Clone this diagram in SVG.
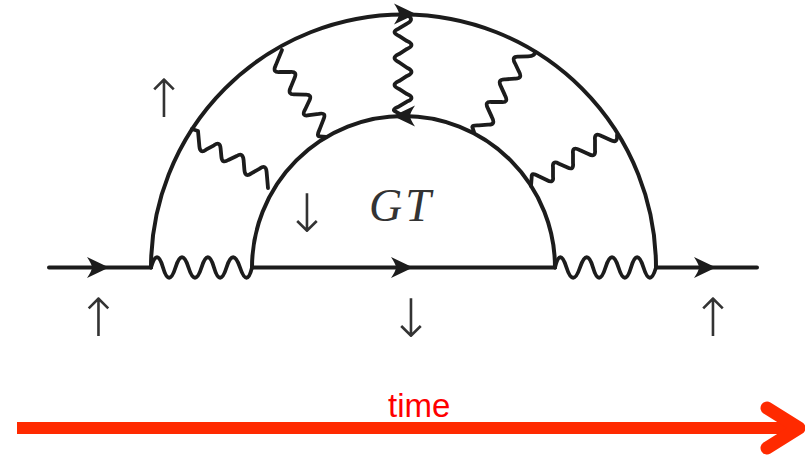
<svg xmlns="http://www.w3.org/2000/svg" width="805" height="456" viewBox="0 0 805 456">
<style>
.l{fill:none;stroke:#1c1c1c;stroke-width:4;stroke-linejoin:round;stroke-linecap:round}
.w{fill:none;stroke:#1c1c1c;stroke-width:3.8;stroke-linejoin:round;stroke-linecap:round}
.h{fill:#1c1c1c}
.m{font-family:"DejaVu Sans",sans-serif;font-weight:200;font-size:53px;fill:#333;text-anchor:middle}
</style>
<defs><path id="head" d="M0 0L-22-10.500Q-17-3-17 0Q-17 3-22 10.500Z"/></defs>
<rect width="805" height="456" fill="#fff"/>
<g id="connectors">
<path class="l" d="M49 267.500H151M252 267.500H555M656 267.500H757"/>
<path class="l" d="M151 267.500A252.500 253 0 0 1 656 267.500"/>
<path class="l" d="M252 267.500A151.500 151.500 0 0 1 555 267.500"/>
<path class="w" d="M151 267.500Q157 247 163 267.500Q169 288 175.500 267.500Q182 247 188.500 267.500Q195 288 201.500 267.500Q208 247 214 267.500Q220 288 226.500 267.500Q233 247 240 267.500Q247 288 252 267.500"/>
<path class="w" d="M555 267.500Q560 247 566.500 267.500Q573 288 580 267.500Q587 247 593 267.500Q599 288 605.500 267.500Q612 247 618.500 267.500Q625 288 631 267.500Q637 247 643.500 267.500Q650 288 656 267.500"/>
<path class="w" d="M192 129L198 131L199.400 146.400Q200 154 206 149.700L214 145.300Q220 141 220.600 148.300L221.400 156.700Q222 164 228.300 160L236.700 156Q243 152 243.600 160.200L244.400 169.800Q245 178 251.300 173.400L259.700 168.600Q266 164 266.600 171.900L268 188"/>
<path class="w" d="M282 50L275.700 65.400Q272 73 280.200 72L289.800 72Q298 71 294.300 78.600L290.700 87.400Q287 95 295.200 94.300L304.800 94.700Q313 94 309 101.300L305 109.700Q301 117 309.200 115.100L318.800 113.900Q327 112 323.300 119.900L319.700 129.100Q316 137 319.700 136.300L326 137"/>
<path class="w" d="M405 14Q416 19 407 23.600L399 28.400Q390 32 399 35.900L407 41.100Q416 45 407 48.900L399 54.100Q390 58 399 62.200L407 67.800Q416 72 407 75.900L399 81.100Q390 85 399 88.900L407 94.100Q416 98 407 101.600L399 106.400Q390 110 396.600 112.100L405 117"/>
<path class="w" d="M535 52Q535 56 528 56.300L518.900 56.700Q511 56 515 63.300L519 71.700Q523 79 514.800 78.600L505.200 79.400Q497 79 501 86.600L505 95.400Q509 103 501.100 102L491.900 102Q484 101 488 108.600L492 117.400Q496 125 488.100 124.600L478.900 125.400Q471 125 472.600 127.800L474 132"/>
<path class="w" d="M617 135Q618 144 610.400 140L601.600 136Q594 132 595 140.200L595 149.800Q596 158 588.400 154L579.600 150Q572 146 573 153.900L573 163.100Q574 171 567 167.300L559 163.700Q552 160 553 167.600L553 176.400Q554 184 546.700 180L538.300 176Q531 172 531.700 176.900L531 186"/>
<g class="h">
<use href="#head" x="109" y="267.500"/>
<use href="#head" x="413" y="267.500"/>
<use href="#head" x="716" y="267.500"/>
<use href="#head" x="416" y="14"/>
<use href="#head" transform="translate(393 116) rotate(180)"/>
</g>
</g>
<g id="labels">
<text class="m" x="98.500" y="336">↑</text>
<text class="m" x="164" y="117">↑</text>
<text class="m" x="307" y="232">↓</text>
<text class="m" x="411" y="337">↓</text>
<text class="m" x="713" y="336">↑</text>
<text x="369" y="221" font-family="Liberation Serif,serif" font-style="italic" font-size="46" letter-spacing="3" fill="#333">GT</text>
</g>
<g id="time-axis">
<rect x="17" y="422" width="780" height="12" fill="#ff2a00"/>
<path d="M767 408L799 428L767 448" fill="none" stroke="#ff2a00" stroke-width="13" stroke-linecap="round" stroke-linejoin="round"/>
<text x="388" y="417" font-family="Liberation Sans,sans-serif" font-size="33" fill="#f00">time</text>
</g>
</svg>
